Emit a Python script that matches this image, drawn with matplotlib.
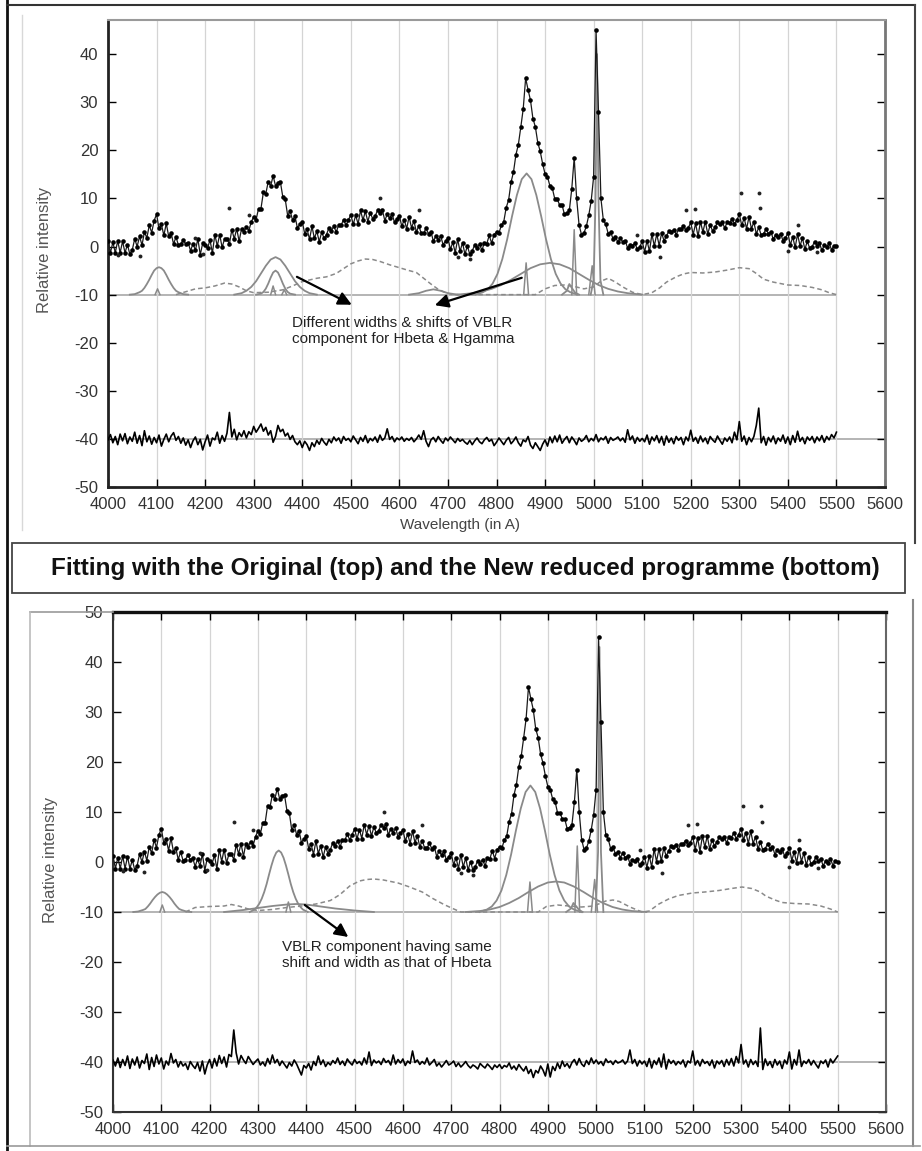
import numpy as np
import matplotlib.pyplot as plt
from matplotlib.lines import Line2D
from matplotlib.patches import Rectangle

plt.rcParams['font.family'] = ['Liberation Sans', 'DejaVu Sans']
plt.rcParams['axes.unicode_minus'] = False

W, H = 922, 1151

# observed spectrum, sampled every 5 A from 4000 to 5500 (same data in both panels)
wavelength = np.arange(4000, 5501, 5)
observed = [
    1.2, -1.3, 0.9, -1.3, 1.2, -1.3, 1.1, -1.3, 0.4, -1.6,
    -0.7, 1.6, 0.0, 2.1, 0.3, 3.0, 1.8, 4.4, 2.9, 5.4,
    6.7, 3.8, 4.6, 2.3, 4.8, 2.1, 2.8, 0.5, 2.0, 0.3,
    0.5, 1.4, 0.5, 0.8, -0.9, 0.6, -0.8, 1.6, -1.7, 0.7,
    0.3, -0.4, 1.4, -1.4, 2.5, 0.1, 2.5, -0.2, 1.6, 1.6,
    0.5, 3.5, 1.6, 3.7, 1.1, 3.7, 3.1, 4.1, 3.3, 5.1,
    6.2, 5.6, 7.9, 7.9, 11.3, 11.0, 13.5, 12.6, 14.7, 12.6,
    13.3, 13.4, 10.3, 9.8, 6.4, 7.4, 5.5, 6.3, 3.9, 4.6,
    5.2, 2.7, 3.6, 1.5, 4.2, 1.7, 3.2, 1.0, 3.0, 1.7,
    2.5, 3.9, 3.3, 4.2, 3.0, 4.5, 4.4, 5.6, 4.4, 5.5,
    6.6, 4.6, 6.5, 4.7, 7.5, 5.5, 7.3, 5.2, 7.0, 5.8,
    6.3, 7.5, 6.9, 7.6, 5.4, 6.7, 5.9, 6.8, 5.0, 5.8,
    6.4, 4.2, 5.6, 3.7, 6.2, 3.9, 5.3, 3.0, 4.3, 2.8,
    2.8, 3.8, 2.6, 3.1, 1.1, 2.2, 1.4, 2.2, 0.4, 1.1,
    1.8, -0.6, 0.9, -1.3, 1.5, -1.0, 0.8, -1.6, 0.1, -1.6,
    -0.9, 0.3, -0.3, 0.5, -0.8, 0.8, 0.6, 2.3, 0.7, 2.5,
    3.0, 2.8, 4.4, 5.2, 8.1, 9.7, 13.4, 15.5, 19.1, 21.2,
    24.8, 28.6, 35.0, 32.6, 30.4, 26.6, 24.9, 21.6, 19.8, 17.2,
    15.1, 14.5, 12.6, 12.1, 9.9, 9.9, 8.6, 8.6, 6.7, 6.9,
    7.5, 12.0, 18.5, 10.0, 4.5, 2.5, 2.8, 4.2, 6.5, 9.5,
    14.5, 45.0, 28.0, 10.0, 5.5, 4.6, 2.7, 3.0, 1.6, 2.0,
    0.9, 1.8, 0.9, 1.2, -0.3, 0.4, 0.2, 0.7, -0.6, -0.1,
    1.1, -1.1, 1.2, -1.0, 2.6, 0.1, 2.6, 0.2, 2.8, 1.2,
    2.2, 3.2, 3.0, 3.5, 2.5, 3.6, 3.6, 4.3, 3.4, 3.9,
    5.0, 2.5, 4.8, 2.1, 5.2, 3.0, 5.2, 2.6, 4.5, 3.2,
    4.0, 5.0, 4.6, 5.1, 3.8, 5.1, 4.9, 5.8, 4.7, 5.5,
    6.7, 4.4, 5.9, 3.7, 6.2, 3.7, 5.1, 2.6, 4.0, 2.4,
    2.7, 3.6, 2.7, 3.1, 1.5, 2.5, 2.0, 2.7, 1.2, 1.8,
    2.8, 0.3, 2.0, -0.2, 2.6, 0.1, 1.8, -0.6, 1.1, -0.4,
    0.0, 1.0, 0.2, 0.7, -0.8, 0.3, -0.1, 0.7, -0.7, 0.2,
    0.1,
]
outlier_wl = [4020, 4065, 4180, 4195, 4250, 4290, 4560, 4640, 4720, 4745,
              5090, 5136, 5190, 5208, 5304, 5341, 5343, 5400, 5420, 5460]
outlier_flux = [-1.8, -2.0, 1.8, -1.5, 8.0, 6.5, 10.0, 7.5, -2.2, -2.5,
                2.5, -2.1, 7.5, 7.7, 11.2, 11.2, 8.0, -1.0, 4.5, -1.2]

# residuals (offset to -40), every 5 A
resid_top = [
    -40.2, -39.1, -40.8, -39.5, -41.2, -39.0, -40.4, -38.9, -41.0, -39.6,
    -40.5, -38.6, -40.9, -39.3, -41.4, -38.3, -40.6, -39.4, -41.1, -39.7,
    -40.8, -39.2, -41.5, -40.1, -39.0, -40.6, -39.4, -38.7, -40.3, -39.5,
    -40.9, -39.8, -41.3, -40.2, -41.8, -40.4, -39.6, -41.2, -40.1, -42.3,
    -40.6, -39.2, -41.5, -39.8, -40.2, -38.6, -40.9, -39.3, -40.5, -38.8,
    -34.5, -39.6, -38.0, -40.2, -38.7, -39.5, -38.3, -39.8, -38.5, -39.1,
    -37.4, -38.6, -37.8, -36.9, -38.4, -37.6, -39.2, -38.3, -40.7, -39.5,
    -37.2, -38.5, -38.0, -39.4, -38.8, -40.1, -39.3, -40.6, -41.2, -40.4,
    -41.8, -40.5, -41.2, -42.4, -40.8, -41.6, -40.3, -41.1, -39.9, -40.7,
    -41.3, -40.1, -40.8, -39.6, -40.4, -39.8, -40.9, -39.5, -40.3, -39.9,
    -40.6, -39.4, -40.2, -41.0, -39.7, -40.5, -39.3, -40.8, -39.9, -40.4,
    -39.6, -40.7, -39.2, -40.3, -39.8, -37.9, -40.1, -39.5, -40.6, -39.8,
    -40.2, -39.6, -40.5, -39.9, -40.3, -39.7, -40.6, -40.0, -39.2, -40.1,
    -38.3, -40.5, -41.6, -40.2, -39.7, -40.6, -39.5, -40.3, -40.9, -39.8,
    -40.4, -39.6, -40.2, -40.8, -39.9, -40.5, -40.1, -40.7, -41.1, -40.3,
    -41.2, -40.4, -39.8, -40.6, -41.0, -40.2, -39.7, -40.5, -40.1, -41.4,
    -40.7, -39.8, -40.5, -41.2, -40.3, -39.7, -41.0, -40.4, -39.6, -40.8,
    -41.5, -40.2, -40.6, -39.5, -41.3, -42.0, -40.8, -41.6, -42.4, -41.1,
    -40.2, -41.5, -39.6, -40.8, -39.4, -40.6, -39.2, -40.9, -40.1, -39.5,
    -40.8, -39.6, -40.3, -41.2, -39.8, -40.5, -40.1, -39.3, -40.6, -39.9,
    -40.4, -39.1, -40.6, -39.8, -40.2, -39.5, -40.9, -39.7, -40.3, -40.0,
    -39.6, -40.4, -39.8, -40.7, -38.1, -40.2, -39.4, -40.9, -39.7, -40.5,
    -39.9, -40.6, -39.2, -41.1, -39.6, -40.4, -39.3, -40.8, -39.5, -41.3,
    -39.4, -40.7, -39.8, -41.0, -39.5, -40.3, -39.7, -41.2, -39.6, -40.4,
    -38.2, -40.5, -39.7, -40.9, -39.4, -40.6, -39.8, -41.0, -39.5, -40.2,
    -40.7, -39.4, -40.3, -41.1, -39.8, -40.5, -39.6, -40.8, -38.6, -40.2,
    -36.4, -40.5, -39.4, -41.2, -39.7, -40.6, -39.5, -37.2, -33.6, -40.8,
    -39.5, -41.3, -39.7, -40.6, -39.4, -41.0, -39.8, -40.5, -39.2, -40.9,
    -39.6, -41.2, -39.3, -40.7, -38.4, -40.5, -39.7, -41.0, -39.6, -40.3,
    -39.5, -40.8, -39.6, -40.4, -39.3, -40.7, -39.5, -40.2, -39.1, -39.8,
    -38.6,
]
resid_bottom = [
    -39.6, -40.8, -39.2, -41.1, -39.5, -40.7, -38.8, -41.3, -39.4, -40.6,
    -39.0, -41.2, -39.7, -40.3, -38.4, -41.5, -39.1, -40.9, -38.6, -40.4,
    -39.2, -41.4, -39.8, -40.6, -38.3, -40.2, -39.5, -41.0, -39.9, -40.8,
    -40.3, -41.5, -39.9, -40.7, -41.3, -40.1, -41.8, -39.8, -42.4, -40.6,
    -39.5, -41.2, -39.3, -40.8, -38.7, -40.3, -39.0, -41.0, -38.5, -38.9,
    -33.6, -38.2, -40.4, -38.7, -39.6, -40.3, -38.9, -39.7, -40.5, -39.9,
    -39.4, -40.6, -40.0, -40.8, -39.3, -40.4, -38.6, -40.2, -39.5, -40.7,
    -39.8, -40.5, -41.2, -40.1, -40.8, -39.6, -40.4, -41.5, -42.6, -40.7,
    -41.2, -40.3, -41.6, -39.9, -40.7, -38.8, -40.5, -39.6, -40.9, -40.1,
    -40.6, -39.7, -40.3, -39.2, -40.5, -39.8, -40.7, -39.4, -40.1, -40.6,
    -39.5, -40.3, -39.9, -40.6, -39.2, -40.4, -38.0, -40.7, -39.6, -40.2,
    -39.8, -40.5, -39.3, -40.1, -39.7, -40.6, -38.6, -40.4, -39.5, -40.2,
    -39.4, -40.7, -39.8, -40.3, -37.8, -40.1, -39.6, -40.5, -39.9, -40.4,
    -39.2, -40.6, -40.1, -39.5, -40.8, -40.2, -41.0, -40.4, -39.7, -40.6,
    -40.3, -39.8, -40.9, -40.2, -41.0, -40.5, -39.9, -40.7, -41.2, -40.6,
    -40.9, -41.4, -40.3, -40.8, -41.2, -40.4, -40.9, -41.5, -40.6, -41.1,
    -40.5, -41.3, -40.7, -41.0, -40.2, -41.4, -40.8, -41.6, -40.5, -41.2,
    -41.8, -40.9, -42.3, -41.5, -43.1, -41.7, -42.2, -40.8, -41.6, -42.8,
    -40.4, -43.0, -40.9, -41.7, -40.2, -41.3, -39.8, -40.9, -40.3, -41.2,
    -40.1, -39.5, -40.6, -39.3, -40.4, -40.9, -39.7, -40.5, -39.2, -40.3,
    -39.6, -40.4, -39.9, -40.7, -39.4, -40.1, -39.8, -40.5, -39.7, -40.2,
    -40.0, -39.6, -40.4, -39.8, -37.6, -40.3, -39.5, -40.8, -39.7, -40.4,
    -39.8, -40.9, -39.3, -41.2, -39.7, -40.5, -39.2, -41.0, -38.4, -41.4,
    -39.5, -40.3, -39.7, -40.6, -39.9, -40.4, -39.6, -41.0, -39.8, -40.2,
    -37.8, -40.6, -39.7, -40.8, -39.5, -40.3, -39.9, -40.7, -39.6, -41.2,
    -39.8, -40.4, -39.7, -40.9, -39.5, -40.6, -39.3, -40.8, -38.9, -40.2,
    -36.5, -40.4, -39.6, -41.0, -39.5, -40.5, -39.8, -40.9, -33.2, -41.5,
    -39.4, -40.7, -39.9, -41.1, -39.5, -40.6, -39.8, -41.3, -39.6, -40.4,
    -38.0, -41.4, -39.5, -40.6, -37.6, -40.9, -39.8, -40.3, -39.5, -40.6,
    -39.7, -40.5, -41.2, -39.8, -40.3, -39.6, -41.0, -39.4, -40.2, -39.5,
    -38.8,
]

# ---- fitted components, top panel (original programme), baseline -10 ----
top_hdelta_wl = [4045, 4055, 4065, 4070, 4075, 4080, 4085, 4090, 4095, 4100, 4105,
                 4110, 4115, 4120, 4125, 4130, 4135, 4140, 4145, 4155, 4165]
top_hdelta = [-10, -9.9, -9.5, -9.2, -8.6, -7.8, -6.9, -5.9, -5.0, -4.5, -4.3,
              -4.5, -5.0, -5.9, -6.9, -7.8, -8.6, -9.2, -9.5, -9.9, -10]
top_hg_vblr_wl = [4260, 4275, 4285, 4295, 4305, 4315, 4325, 4335, 4345,
                  4355, 4365, 4375, 4385, 4395, 4405, 4415, 4430]
top_hg_vblr = [-10, -9.7, -9.2, -8.4, -7.2, -5.6, -4.0, -2.7, -2.2,
               -2.7, -4.0, -5.6, -7.2, -8.4, -9.2, -9.7, -10]
top_hg_wl = [4305, 4315, 4320, 4325, 4330, 4335, 4340, 4345,
             4350, 4355, 4360, 4365, 4370, 4375, 4385]
top_hg = [-10, -9.8, -9.45, -8.75, -7.7, -6.45, -5.4, -5.0,
          -5.4, -6.45, -7.7, -8.75, -9.45, -9.8, -10]
top_bump_wl = [4620, 4640, 4655, 4670, 4685, 4700, 4720]
top_bump = [-10, -9.7, -9.2, -8.9, -9.2, -9.7, -10]
top_hb_wl = [4757, 4772, 4782, 4792, 4802, 4812, 4822, 4832, 4842, 4852, 4862,
             4872, 4882, 4892, 4902, 4912, 4922, 4932, 4942, 4952, 4967]
top_hb = [-10, -9.5, -8.9, -7.7, -5.7, -2.6, 1.5, 6.3, 10.7, 14.0, 15.2,
          14.0, 10.7, 6.3, 1.5, -2.6, -5.7, -7.7, -8.9, -9.5, -10]
top_hb_vblr_wl = [4720, 4750, 4770, 4790, 4810, 4830, 4850, 4870, 4890, 4910,
                  4930, 4950, 4970, 4990, 5010, 5030, 5050, 5070, 5100]
top_hb_vblr = [-10, -9.7, -9.35, -8.8, -8.0, -6.9, -5.7, -4.5, -3.7, -3.4,
               -3.7, -4.5, -5.7, -6.9, -8.0, -8.8, -9.35, -9.7, -10]
top_o3a_base_wl = [4935, 4945, 4950, 4955, 4962, 4970]
top_o3a_base = [-10, -9.2, -7.8, -8.6, -9.6, -10]
top_o3b_wl = [4994, 5000, 5004, 5007, 5010, 5014, 5020]
top_o3b = [-10, -7, 10, 40, 10, -7, -10]
top_narrow_wl = [[4097, 4102, 4107], [4335, 4340, 4345], [4358, 4363, 4368],
                 [4856, 4861, 4866], [4955, 4960, 4965], [4990, 4997, 5003]]
top_narrow = [[-10, -8.8, -10], [-10, -8.2, -10], [-10, -9.0, -10],
              [-10, -3.4, -10], [-10, 3.5, -10], [-10, -4.0, -10]]
top_feii_wl = [4140, 4160, 4180, 4200, 4220, 4240, 4255, 4270, 4285, 4300, 4330,
               4360, 4380, 4400, 4430, 4450, 4470, 4485, 4500, 4515, 4530, 4545,
               4560, 4580, 4600, 4620, 4635, 4650, 4665, 4680, 4695, 4710, 4880,
               4900, 4920, 4940, 4960, 4980, 5000, 5015, 5030, 5045, 5060, 5080,
               5100, 5120, 5136, 5150, 5170, 5185, 5200, 5225, 5250, 5275, 5300,
               5320, 5335, 5350, 5370, 5385, 5400, 5425, 5450, 5470, 5485, 5500]
top_feii = [-10, -9.4, -8.8, -8.6, -8.2, -7.6, -7.8, -8.4, -9.2, -9.6, -9.5,
            -9.0, -8.2, -7.3, -6.6, -6.3, -5.6, -4.6, -3.6, -3.0, -2.6, -2.7,
            -3.1, -3.8, -4.4, -5.0, -5.4, -6.6, -7.8, -8.9, -9.6, -10, -10,
            -8.8, -8.1, -8.0, -8.3, -8.8, -8.4, -7.2, -6.6, -7.4, -8.4, -9.5,
            -10, -9.6, -8.6, -7.4, -6.3, -5.7, -5.4, -5.5, -5.3, -4.9, -4.4,
            -4.6, -5.6, -6.8, -7.4, -7.7, -8.0, -8.1, -8.5, -9.0, -9.6, -10]

# ---- fitted components, bottom panel (new reduced programme) ----
bot_hdelta_wl = [4042, 4052, 4062, 4067, 4072, 4077, 4082, 4087, 4092, 4097, 4102,
                 4107, 4112, 4117, 4122, 4127, 4132, 4137, 4142, 4152, 4162]
bot_hdelta = [-10, -9.9, -9.6, -9.4, -8.9, -8.3, -7.6, -7.0, -6.5, -6.15, -6.0,
              -6.15, -6.5, -7.0, -7.6, -8.3, -8.9, -9.4, -9.6, -9.9, -10]
bot_hg_wl = [4283, 4293, 4298, 4303, 4308, 4313, 4318, 4323, 4328, 4333, 4338, 4343,
             4348, 4353, 4358, 4363, 4368, 4373, 4378, 4383, 4388, 4393, 4403]
bot_hg = [-10, -9.5, -9.0, -8.3, -7.3, -6.0, -4.4, -2.5, -0.7, 0.85, 1.9, 2.3,
          1.9, 0.85, -0.7, -2.5, -4.4, -6.0, -7.3, -8.3, -9.0, -9.5, -10]
bot_hg_vblr_wl = [4230, 4270, 4300, 4330, 4360, 4380, 4400, 4430, 4460, 4500, 4540]
bot_hg_vblr = [-10, -9.6, -9.2, -8.8, -8.5, -8.4, -8.5, -8.9, -9.3, -9.7, -10]
bot_hb_wl = [4759, 4774, 4784, 4794, 4804, 4814, 4824, 4834, 4844, 4854, 4864,
             4874, 4884, 4894, 4904, 4914, 4924, 4934, 4944, 4954, 4969]
bot_hb = [-10, -9.5, -8.9, -7.7, -5.7, -2.6, 1.5, 6.3, 10.7, 14.0, 15.3,
          14.0, 10.7, 6.3, 1.5, -2.6, -5.7, -7.7, -8.9, -9.5, -10]
bot_hb_vblr_wl = [4730, 4760, 4780, 4800, 4820, 4840, 4860, 4880, 4900, 4917,
                  4934, 4954, 4974, 4994, 5014, 5034, 5054, 5074, 5104]
bot_hb_vblr = [-10, -9.8, -9.5, -9.0, -8.2, -7.2, -6.0, -4.9, -4.1, -3.9,
               -4.1, -4.9, -6.0, -7.2, -8.2, -9.0, -9.5, -9.8, -10]
bot_o3a_base_wl = [4938, 4948, 4953, 4958, 4965, 4972]
bot_o3a_base = [-10, -9.3, -8.2, -8.8, -9.6, -10]
bot_o3b_wl = [4999, 5004, 5007, 5010, 5015]
bot_o3b = [-10, 2, 43, 2, -10]
bot_narrow_wl = [[4097, 4102, 4107], [4358, 4363, 4368], [4858, 4863, 4868],
                 [4956, 4961, 4966], [4990, 4997, 5003]]
bot_narrow = [[-10, -8.6, -10], [-10, -8.0, -10], [-10, -4.0, -10],
              [-10, 3.2, -10], [-10, -3.5, -10]]
bot_feii_wl = [4150, 4170, 4200, 4230, 4245, 4260, 4280, 4300, 4330, 4360, 4390,
               4420, 4450, 4470, 4490, 4510, 4525, 4540, 4560, 4590, 4614, 4640,
               4662, 4685, 4703, 4720, 4880, 4897, 4920, 4944, 4970, 4995, 5020,
               5035, 5048, 5070, 5095, 5110, 5130, 5150, 5170, 5199, 5225, 5254,
               5280, 5302, 5322, 5340, 5351, 5370, 5385, 5410, 5440, 5465, 5485, 5500]
bot_feii = [-10, -9.1, -8.9, -8.8, -8.5, -8.8, -9.4, -9.7, -9.5, -9.1, -8.8,
            -8.4, -7.7, -6.5, -4.8, -3.8, -3.5, -3.4, -3.6, -4.2, -5.0, -6.0,
            -7.3, -8.5, -9.3, -10, -10, -8.9, -8.6, -8.8, -9.0, -8.8, -7.8,
            -7.6, -7.9, -9.0, -10, -9.8, -8.4, -7.4, -6.7, -6.2, -6.0, -5.7,
            -5.3, -5.0, -5.3, -6.0, -6.8, -7.6, -8.1, -8.3, -8.4, -8.8, -9.4, -10]

top_note = 'Different widths & shifts of VBLR\ncomponent for Hbeta & Hgamma'
bot_note = 'VBLR component having same\nshift and width as that of Hbeta'
title = 'Fitting with the Original (top) and the New reduced programme (bottom)'

COMP = '#8a8a8a'


def fx(px):
    return px / W


def fy(py):
    return 1 - py / H


def draw_panel(ax, solids, narrows, feii, resid):
    ax.grid(axis='x', color='#d4d4d4', lw=0.9, zorder=0)
    ax.plot([4000, 5500], [-10, -10], color='#a0a0a0', lw=1.1, zorder=1)
    ax.axhline(-40, color='#a0a0a0', lw=1.1, zorder=1)
    ax.plot(feii[0], feii[1], color=COMP, lw=1.1, dashes=(3, 2), zorder=2)
    for wl, val in solids:
        ax.plot(wl, val, color=COMP, lw=1.3, zorder=2)
    for wl, val in zip(*narrows):
        ax.plot(wl, val, color=COMP, lw=1.1, zorder=2)
    ax.plot(wavelength, observed, color='#1a1a1a', lw=0.9, zorder=3)
    ax.plot(wavelength, observed, 'o', ms=3.3, mew=0, color='k', zorder=3)
    ax.plot(outlier_wl, outlier_flux, 'o', ms=2.8, mew=0, color='#222', zorder=3)
    ax.plot(wavelength, resid, color='k', lw=1.2, zorder=3)

    ax.set_xlim(4000, 5600)
    ax.set_xticks(range(4000, 5601, 100))
    ax.tick_params(direction='in', length=6, width=1, labelsize=12,
                   labelcolor='#333', right=True, pad=7)


fig = plt.figure(figsize=(W / 100, H / 100), dpi=100)

# top panel
ax1 = fig.add_axes([fx(108), fy(487), (885 - 108) / W, (487 - 20) / H])
draw_panel(ax1,
           [(top_hdelta_wl, top_hdelta), (top_hg_vblr_wl, top_hg_vblr),
            (top_hg_wl, top_hg), (top_bump_wl, top_bump), (top_hb_wl, top_hb),
            (top_hb_vblr_wl, top_hb_vblr), (top_o3a_base_wl, top_o3a_base),
            (top_o3b_wl, top_o3b)],
           (top_narrow_wl, top_narrow), (top_feii_wl, top_feii), resid_top)
ax1.set_ylim(-50, 47.1)
ax1.set_yticks(range(-50, 41, 10))
ax1.tick_params(top=False)
for s in ['left', 'bottom']:
    ax1.spines[s].set_color('#222')
    ax1.spines[s].set_linewidth(2)
ax1.spines['top'].set_color('#9a9a9a')
ax1.spines['top'].set_linewidth(1.5)
ax1.spines['right'].set_color('#777')
ax1.spines['right'].set_linewidth(2)

arrow = dict(arrowstyle='-|>', mutation_scale=20, lw=1.6, color='k',
             shrinkA=0, shrinkB=0)
ax1.annotate('', xy=(4502, -12.1), xytext=(4389, -6.3), arrowprops=arrow, zorder=5)
ax1.annotate('', xy=(4673, -12.2), xytext=(4852, -6.5), arrowprops=arrow, zorder=5)
ax1.text(4379, -17.5, top_note, fontsize=11, color='#222', va='center',
         ha='left', linespacing=1.15)

# bottom panel
ax2 = fig.add_axes([fx(113), fy(1112), (886 - 113) / W, (1112 - 612) / H])
draw_panel(ax2,
           [(bot_hdelta_wl, bot_hdelta), (bot_hg_wl, bot_hg),
            (bot_hg_vblr_wl, bot_hg_vblr), (bot_hb_wl, bot_hb),
            (bot_hb_vblr_wl, bot_hb_vblr), (bot_o3a_base_wl, bot_o3a_base),
            (bot_o3b_wl, bot_o3b)],
           (bot_narrow_wl, bot_narrow), (bot_feii_wl, bot_feii), resid_bottom)
ax2.set_ylim(-50, 50)
ax2.set_yticks(range(-50, 51, 10))
ax2.tick_params(top=True)
ax2.spines['top'].set_color('#111')
ax2.spines['top'].set_linewidth(2.4)
for s in ['left', 'bottom']:
    ax2.spines[s].set_color('#333')
    ax2.spines[s].set_linewidth(1.5)
ax2.spines['right'].set_color('#666')
ax2.spines['right'].set_linewidth(1.5)
ax2.annotate('', xy=(4487, -15.0), xytext=(4397, -8.6), arrowprops=arrow, zorder=5)
ax2.text(4350, -18.6, bot_note, fontsize=11, color='#222', va='center',
         ha='left', linespacing=1.15)

# axis labels
fig.text(fx(45), fy(250), 'Relative intensity', rotation=90, ha='center',
         va='center', fontsize=12, color='#555')
fig.text(fx(50), fy(860), 'Relative intensity', rotation=90, ha='center',
         va='center', fontsize=12, color='#555')
fig.text(fx(460), fy(525), 'Wavelength (in A)', ha='center', va='center',
         fontsize=11, color='#444')

# title box between the panels
fig.add_artist(Rectangle((fx(12), fy(593)), (905 - 12) / W, 50 / H,
                         transform=fig.transFigure, fill=False, ec='#444', lw=1.3))
fig.text(fx(465), fy(568), title, ha='center', va='center', fontsize=17.5,
         fontweight='bold', color='#111')

# scanned page frame lines
def frame_line(xs, ys, color, lw):
    fig.add_artist(Line2D([fx(x) for x in xs], [fy(y) for y in ys],
                          transform=fig.transFigure, color=color, lw=lw))

frame_line([7, 7], [0, 1151], '#111', 2)
frame_line([7, 915], [5, 5], '#333', 1.5)
frame_line([915, 915], [5, 543], '#444', 1.5)
frame_line([22, 22], [15, 530], '#d8d8d8', 1)
frame_line([30, 113], [612, 612], '#999', 1.2)
frame_line([30, 30], [612, 1146], '#bbb', 1.2)
frame_line([913, 913], [600, 1146], '#888', 1.5)
frame_line([7, 920], [1146, 1146], '#999', 1.2)

fig.savefig('out.png', dpi=100)
